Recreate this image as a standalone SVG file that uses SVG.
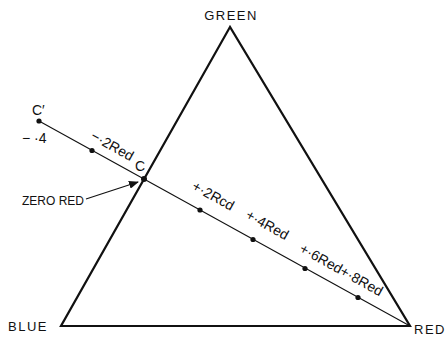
<svg xmlns="http://www.w3.org/2000/svg" width="446" height="340" viewBox="0 0 446 340">
<style>
text{font-family:"Liberation Sans","DejaVu Sans",sans-serif;fill:#111;}
.lbl{font-size:13px;letter-spacing:1.5px;}
.rl{font-size:14px;}
.tri{fill:none;stroke:#111;stroke-width:2.2;stroke-linejoin:miter;}
.ln{stroke:#111;stroke-width:1.1;fill:none;}
.dot{fill:#111;}
</style>
<defs>
<marker id="ah" markerWidth="10" markerHeight="8" refX="9" refY="4" orient="auto" markerUnits="userSpaceOnUse">
<path d="M0,0 L10,4 L0,8 Z" fill="#111"/>
</marker>
</defs>
<g id="triangle">
<polygon class="tri" points="230,27 61,326 410,326"/>
</g>
<g id="green"><text class="lbl" x="231" y="20" text-anchor="middle">GREEN</text></g>
<g id="blue"><text class="lbl" x="8" y="331">BLUE</text></g>
<g id="red"><text class="lbl" x="414" y="334">RED</text></g>
<g id="connectors">
<line class="ln" x1="39" y1="121" x2="410" y2="326"/>
<line class="ln" x1="86" y1="199" x2="138" y2="182" marker-end="url(#ah)"/>
</g>
<g id="points">
<circle class="dot" cx="39" cy="121" r="2.6"/>
<circle class="dot" cx="92" cy="150.5" r="2.6"/>
<circle class="dot" cx="144" cy="179" r="3"/>
<circle class="dot" cx="200" cy="210" r="2.6"/>
<circle class="dot" cx="253" cy="239.5" r="2.6"/>
<circle class="dot" cx="305" cy="268.5" r="2.6"/>
<circle class="dot" cx="358" cy="297.5" r="2.6"/>
</g>
<g id="labels">
<text x="32" y="115" style="font-size:14px">C′</text>
<text x="22" y="143" style="font-size:14px">− ·4</text>
<text x="135" y="171" style="font-size:14px">C</text>
<text x="22" y="205" style="font-size:12px">ZERO RED</text>
<text class="rl" transform="translate(110,150) rotate(29)" text-anchor="middle">−·2Red</text>
<text class="rl" transform="translate(211,200) rotate(29)" text-anchor="middle">+·2Rcd</text>
<text class="rl" transform="translate(265,229) rotate(29)" text-anchor="middle">+·4Red</text>
<text class="rl" transform="translate(339,274) rotate(29)" text-anchor="middle">+·6Red+·8Red</text>
</g>
</svg>
